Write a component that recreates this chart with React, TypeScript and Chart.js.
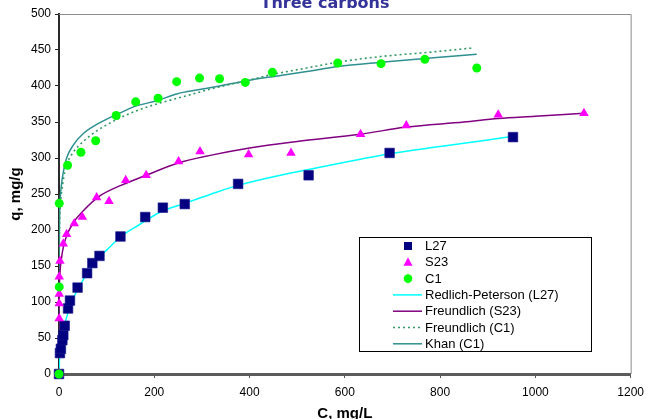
import React, { useEffect, useRef } from 'react';
import { Chart, registerables } from 'chart.js';

Chart.register(...registerables);

// ---------- data ----------
const xTicks = [0, 200, 400, 600, 800, 1000, 1200];
const yTicks = [0, 50, 100, 150, 200, 250, 300, 350, 400, 450, 500];

// L27 (squares)
const l27C = [0, 2, 4, 7, 9, 12, 19, 23, 39, 59, 70, 85, 129, 181, 218, 264, 376, 524, 694, 953];
const l27Q = [0, 29, 35, 47, 54, 67, 91, 102, 120, 140, 154, 164, 191, 218, 231, 236, 264, 276, 307, 329];

// S23 (triangles)
const s23C = [0, 0.5, 0.5, 0.5, 0.5, 2, 9, 16, 32, 49, 79, 105, 140, 183, 251, 296, 398, 487, 633, 729, 922, 1102];
const s23Q = [0, 77, 98, 111, 135, 157, 181, 194, 209, 218, 245, 240, 269, 276, 295, 309, 305, 307, 333, 345, 360, 362];

// C1 (circles)
const c1C = [0, 0.5, 0.5, 18, 46, 77, 120, 161, 208, 247, 295, 337, 391, 448, 585, 676, 768, 877];
const c1Q = [0, 121, 237, 290, 308, 324, 359, 378, 383, 406, 411, 410, 405, 419, 432, 431, 437, 425];

// Redlich-Peterson (L27) curve
const rpC = [0, 1, 2, 4, 7, 12, 20, 30, 50, 70, 85, 100, 130, 170, 210, 264, 320, 376, 450, 524, 600, 694, 800, 900, 953];
const rpQ = [0, 20, 30, 40, 52, 68, 88, 105, 130, 150, 163, 172, 191, 208, 224, 237, 250, 262, 274, 284, 294, 306, 316, 325, 330];

// Freundlich (S23) curve
const fsC = [0, 0.05, 0.2, 0.6, 2, 5, 9, 16, 32, 50, 85, 130, 183, 250, 320, 400, 500, 633, 729, 850, 922, 1000, 1102];
const fsQ = [0, 80, 98, 116, 140, 160, 176, 192, 212, 226, 247, 262, 276, 293, 304, 314, 323, 333, 343, 350, 355, 358, 362];

// Freundlich (C1) curve
const fcC = [0, 0.05, 0.3, 1, 3, 8, 16, 30, 51, 80, 120, 160, 210, 260, 320, 391, 448, 520, 585, 676, 780, 871];
const fcQ = [0, 130, 170, 205, 235, 265, 290, 308, 323, 338, 353, 365, 376, 385, 396, 407, 416, 425, 433, 441, 447, 453];

// Khan (C1) curve
const khC = [0, 0.3, 1, 2, 5, 9, 16, 30, 51, 80, 120, 161, 208, 247, 295, 337, 391, 448, 520, 585, 676, 780, 877];
const khQ = [0, 130, 205, 235, 262, 280, 300, 318, 334, 347, 360, 372, 380, 389, 395, 400, 407, 413, 420, 427, 433, 439, 444];

const titleText = 'Three carbons';
const xTitle = 'C, mg/L';
const yTitle = 'q, mg/g';

const FONT = '"Liberation Sans", Arial, sans-serif';

const pts = (xs: number[], ys: number[]) => xs.map((x, i) => ({ x, y: ys[i] }));

const overlay = {
  id: 'overlay',
  afterDraw(chart: any) {
    const { ctx, chartArea: a } = chart;
    ctx.save();
    // frame top & right
    ctx.strokeStyle = '#8c8c8c';
    ctx.lineWidth = 1;
    ctx.beginPath();
    ctx.moveTo(a.left, a.top + 0.5);
    ctx.lineTo(a.right + 0.5, a.top + 0.5);
    ctx.lineTo(a.right + 0.5, a.bottom);
    ctx.stroke();

    // title
    ctx.fillStyle = '#333399';
    ctx.font = 'bold 16px "DejaVu Sans", sans-serif';
    ctx.textAlign = 'center';
    ctx.textBaseline = 'alphabetic';
    ctx.fillText(titleText, 325, 8);

    // axis titles
    ctx.fillStyle = '#000';
    ctx.font = `bold 15px ${FONT}`;
    ctx.fillText(xTitle, (a.left + a.right) / 2, 418);
    ctx.save();
    ctx.translate(20, (a.top + a.bottom) / 2);
    ctx.rotate(-Math.PI / 2);
    ctx.textBaseline = 'alphabetic';
    ctx.fillText(yTitle, 0, 0);
    ctx.restore();

    // legend
    const lx = a.left + 300;
    const ly = a.top + 223;
    const lw = 232;
    const lh = 114;
    ctx.fillStyle = '#fff';
    ctx.fillRect(lx, ly, lw, lh);
    ctx.strokeStyle = '#000';
    ctx.lineWidth = 1;
    ctx.strokeRect(lx + 0.5, ly + 0.5, lw, lh);
    const ds = chart.data.datasets;
    const order = [2, 1, 0, 3, 4, 5, 6];
    ctx.font = `13px ${FONT}`;
    ctx.textAlign = 'left';
    ctx.textBaseline = 'middle';
    order.forEach((idx: number, row: number) => {
      const d = ds[idx];
      const cy = ly + 9 + row * 16.3;
      const mx = lx + 49;
      if (idx < 3) {
        ctx.fillStyle = d.backgroundColor;
        ctx.beginPath();
        if (d.pointStyle === 'rect') {
          ctx.rect(mx - 4, cy - 4, 8, 8);
        } else if (d.pointStyle === 'triangle') {
          ctx.moveTo(mx, cy - 5);
          ctx.lineTo(mx + 4.5, cy + 3.5);
          ctx.lineTo(mx - 4.5, cy + 3.5);
          ctx.closePath();
        } else {
          ctx.arc(mx, cy, 4.3, 0, Math.PI * 2);
        }
        ctx.fill();
      } else {
        ctx.strokeStyle = d.borderColor;
        ctx.lineWidth = d.borderWidth;
        ctx.setLineDash(d.borderDash || []);
        ctx.beginPath();
        ctx.moveTo(lx + 34, cy);
        ctx.lineTo(lx + 63, cy);
        ctx.stroke();
        ctx.setLineDash([]);
      }
      ctx.fillStyle = '#000';
      ctx.fillText(d.label, lx + 66, cy + 0.5);
    });
    ctx.restore();
  },
};

export default function App() {
  const ref = useRef<HTMLCanvasElement>(null);
  useEffect(() => {
    document.body.style.margin = '0';
    const canvas = ref.current!;
    const lineBase = { showLine: true, pointRadius: 0, pointHoverRadius: 0, fill: false, cubicInterpolationMode: 'monotone' as const };
    const chart = new Chart(canvas, {
      type: 'scatter',
      data: {
        datasets: [
          { label: 'C1', data: pts(c1C, c1Q), pointStyle: 'circle', pointRadius: 4.5, backgroundColor: '#00FF00', borderColor: '#00FF00', borderWidth: 0, clip: false } as any,
          { label: 'S23', data: pts(s23C, s23Q), pointStyle: 'triangle', pointRadius: 5.5, backgroundColor: '#FF00FF', borderColor: '#FF00FF', borderWidth: 0, clip: false } as any,
          { label: 'L27', data: pts(l27C, l27Q), pointStyle: 'rect', pointRadius: 6.8, backgroundColor: '#000080', borderColor: '#1a1a8c', borderWidth: 0.6, clip: false } as any,
          { label: 'Redlich-Peterson (L27)', data: pts(rpC, rpQ), borderColor: '#00FFFF', borderWidth: 1.5, ...lineBase } as any,
          { label: 'Freundlich (S23)', data: pts(fsC, fsQ), borderColor: '#800080', borderWidth: 1.5, ...lineBase } as any,
          { label: 'Freundlich (C1)', data: pts(fcC, fcQ), borderColor: '#339966', borderWidth: 1.6, borderDash: [2, 3], ...lineBase } as any,
          { label: 'Khan (C1)', data: pts(khC, khQ), borderColor: '#2E9090', borderWidth: 1.5, ...lineBase } as any,
        ],
      },
      options: {
        responsive: false,
        animation: false,
        events: [],
        layout: { padding: { left: 0, right: 15, top: 14, bottom: 0 } },
        plugins: { legend: { display: false }, tooltip: { enabled: false }, title: { display: false } },
        scales: {
          x: {
            type: 'linear',
            min: xTicks[0],
            max: xTicks[xTicks.length - 1],
            afterBuildTicks: (s: any) => { s.ticks = xTicks.map((v) => ({ value: v })); },
            ticks: { color: '#000', font: { family: FONT, size: 12 }, padding: 7, maxRotation: 0, callback: (v: any) => String(v) },
            grid: { drawOnChartArea: false, drawTicks: true, tickLength: 4, color: '#555', lineWidth: 1 },
            border: { display: true, color: '#5c5c5c', width: 3 },
            afterFit: (s: any) => { s.height = 45; },
          },
          y: {
            type: 'linear',
            min: yTicks[0],
            max: yTicks[yTicks.length - 1],
            afterBuildTicks: (s: any) => { s.ticks = yTicks.map((v) => ({ value: v })); },
            ticks: { color: '#000', font: { family: FONT, size: 12 }, padding: 4, callback: (v: any) => String(v) },
            grid: { drawOnChartArea: false, drawTicks: true, tickLength: 4, color: '#222', lineWidth: 1 },
            border: { display: true, color: '#2a2a2a', width: 2 },
            afterFit: (s: any) => { s.width = 59; },
          },
        },
      },
      plugins: [overlay],
    });
    return () => chart.destroy();
  }, []);
  return (
    <div style={{ position: 'absolute', left: 0, top: 0, width: 651, height: 419, background: '#fff' }}>
      <canvas ref={ref} width={651} height={419} style={{ display: 'block' }} />
    </div>
  );
}
